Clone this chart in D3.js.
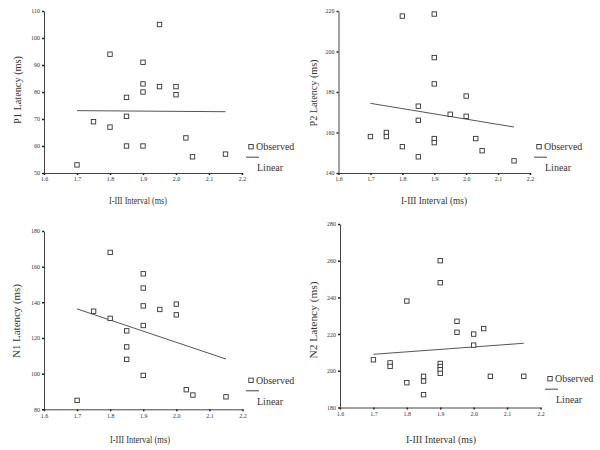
<!DOCTYPE html>
<html><head><meta charset="utf-8">
<script src="https://cdn.jsdelivr.net/npm/d3@7"></script>
<style>body{margin:0;background:#fff}svg{display:block}</style>
</head><body>
<svg id="c" width="600" height="450"></svg>
<script>
// ---- data ----
const xTicks = [1.6, 1.7, 1.8, 1.9, 2.0, 2.1, 2.2];
const xTickLabels = ["1.6", "1.7", "1.8", "1.9", "2.0", "2.1", "2.2"];
const xTitle = "I-III Interval (ms)";
const legendLabels = ["Observed", "Linear"];
const fitX = [1.70, 2.15];

const p1X = [1.70, 1.75, 1.80, 1.80, 1.85, 1.85, 1.85, 1.90, 1.90, 1.90, 1.90, 1.95, 1.95, 2.00, 2.00, 2.03, 2.05, 2.15];
const p1Y = [53, 69, 94, 67, 78, 71, 60, 91, 83, 80, 60, 105, 82, 82, 79, 63, 56, 57];
const p1Fit = [73.1, 72.7];
const p1Ticks = [50, 60, 70, 80, 90, 100, 110];

const p2X = [1.70, 1.75, 1.75, 1.80, 1.80, 1.85, 1.85, 1.85, 1.90, 1.90, 1.90, 1.90, 1.90, 1.95, 2.00, 2.00, 2.03, 2.05, 2.15];
const p2Y = [158, 160, 158, 217.5, 153, 173, 166, 148, 218.5, 197, 184, 157, 155, 169, 178, 168, 157, 151, 146];
const p2Fit = [174.4, 162.7];
const p2Ticks = [140, 160, 180, 200, 220];

const p3X = [1.70, 1.75, 1.80, 1.80, 1.85, 1.85, 1.85, 1.90, 1.90, 1.90, 1.90, 1.90, 1.95, 2.00, 2.00, 2.03, 2.05, 2.15];
const p3Y = [85, 135, 168, 131, 124, 115, 108, 156, 148, 138, 127, 99, 136, 139, 133, 91, 88, 87];
const p3Fit = [136.3, 108.2];
const p3Ticks = [80, 100, 120, 140, 160, 180];

const p4X = [1.70, 1.75, 1.75, 1.80, 1.80, 1.85, 1.85, 1.85, 1.90, 1.90, 1.90, 1.90, 1.90, 1.90, 1.95, 1.95, 2.00, 2.00, 2.03, 2.05, 2.15];
const p4Y = [206, 204.3, 202.4, 238, 193.5, 197, 194.4, 187, 260, 248, 204, 202.3, 200.6, 198.6, 227, 221, 220, 214, 223, 197, 197];
const p4Fit = [209, 215];
const p4Ticks = [180, 200, 220, 240, 260, 280];

const yTitles = ["P1 Latency (ms)", "P2 Latency (ms)", "N1 Latency (ms)", "N2 Latency (ms)"];

// ---- layout ----
const panels = [
  {xs: p1X, ys: p1Y, fit: p1Fit, ticks: p1Ticks, title: yTitles[0],
   xr: [44, 242], yr: [173, 11], xtX: 138, xtY: 204, xtLen: 58, ytX: 17, ytY: 90, ytLen: 68,
   leg: {x: 251, y: 146.7}},
  {xs: p2X, ys: p2Y, fit: p2Fit, ticks: p2Ticks, title: yTitles[1],
   xr: [338.5, 530], yr: [173, 11], xtX: 434, xtY: 204, xtLen: 66, ytX: 313, ytY: 93, ytLen: 67,
   leg: {x: 539, y: 146.7}},
  {xs: p3X, ys: p3Y, fit: p3Fit, ticks: p3Ticks, title: yTitles[2],
   xr: [44, 242.5], yr: [409.3, 231], xtX: 140, xtY: 443, xtLen: 60, ytX: 16, ytY: 321, ytLen: 74,
   leg: {x: 251, y: 380.3}},
  {xs: p4X, ys: p4Y, fit: p4Fit, ticks: p4Ticks, title: yTitles[3],
   xr: [340, 540.5], yr: [407.5, 224], xtX: 441, xtY: 443, xtLen: 70, ytX: 313, ytY: 320, ytLen: 77,
   leg: {x: 550, y: 378.7}}
];

const svg = d3.select("#c");
const serif = "'Liberation Serif', 'Times New Roman', serif";
const ink = "#333";

panels.forEach(p => {
  const x = d3.scaleLinear().domain([xTicks[0], xTicks[xTicks.length - 1]]).range(p.xr);
  const y = d3.scaleLinear().domain([p.ticks[0], p.ticks[p.ticks.length - 1]]).range(p.yr);
  const g = svg.append("g");

  const xa = g.append("g").attr("transform", `translate(0,${p.yr[0]})`)
    .call(d3.axisBottom(x).tickValues(xTicks).tickFormat((d, i) => xTickLabels[i]).tickSize(2).tickSizeOuter(0).tickPadding(2));
  const ya = g.append("g").attr("transform", `translate(${p.xr[0]},0)`)
    .call(d3.axisLeft(y).tickValues(p.ticks).tickSize(2).tickSizeOuter(0).tickPadding(2));
  [xa, ya].forEach(a => {
    a.select(".domain").attr("stroke", "#444").attr("stroke-width", 1);
    a.selectAll(".tick line").attr("stroke", "#222").attr("stroke-width", 1.5);
    a.selectAll("text").attr("font-family", serif).attr("font-size", 6).attr("fill", ink);
  });

  // fit line
  g.append("path")
    .attr("d", d3.line()([[x(fitX[0]), y(p.fit[0])], [x(fitX[1]), y(p.fit[1])]]))
    .attr("stroke", "#555").attr("stroke-width", 1).attr("fill", "none");

  // observed points
  g.selectAll("rect.pt").data(p.xs.map((v, i) => [v, p.ys[i]])).join("rect")
    .attr("class", "pt")
    .attr("x", d => x(d[0]) - 2.2).attr("y", d => y(d[1]) - 2.2)
    .attr("width", 4.4).attr("height", 4.4)
    .attr("fill", "#fff").attr("stroke", "#333").attr("stroke-width", 0.9);

  // titles
  g.append("text").attr("x", p.xtX).attr("y", p.xtY).attr("text-anchor", "middle")
    .attr("font-family", serif).attr("font-size", 11).attr("fill", ink)
    .attr("textLength", p.xtLen).attr("lengthAdjust", "spacingAndGlyphs").text(xTitle);
  g.append("text").attr("transform", `translate(${p.ytX + 4},${p.ytY}) rotate(-90)`)
    .attr("text-anchor", "middle")
    .attr("font-family", serif).attr("font-size", 11).attr("fill", ink)
    .attr("textLength", p.ytLen).attr("lengthAdjust", "spacingAndGlyphs").text(p.title);

  // legend
  const L = p.leg;
  g.append("rect").attr("x", L.x - 2.2).attr("y", L.y - 2.2).attr("width", 4.4).attr("height", 4.4)
    .attr("fill", "#fff").attr("stroke", "#333").attr("stroke-width", 0.9);
  g.append("text").attr("x", L.x + 5).attr("y", L.y + 3.6)
    .attr("font-family", serif).attr("font-size", 10).attr("fill", ink).text(legendLabels[0]);
  g.append("line").attr("x1", L.x - 5).attr("x2", L.x + 8).attr("y1", L.y + 10.5).attr("y2", L.y + 10.5)
    .attr("stroke", "#444").attr("stroke-width", 1);
  g.append("text").attr("x", L.x + 6).attr("y", L.y + 24.5)
    .attr("font-family", serif).attr("font-size", 10).attr("fill", ink).text(legendLabels[1]);
});
</script>
</body></html>
